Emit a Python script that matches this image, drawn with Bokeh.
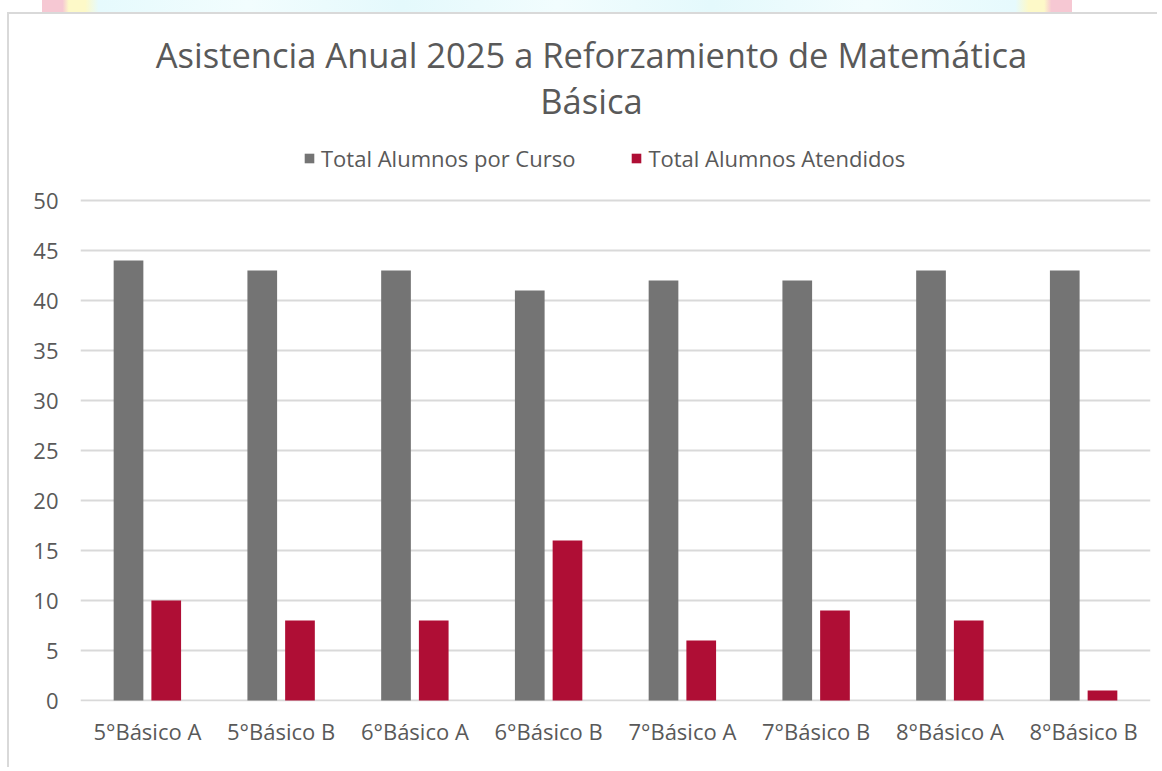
from bokeh.plotting import figure
from bokeh.models import (FactorRange, Range1d, FixedTicker, Legend, LegendItem, Label,
                          ColumnDataSource, InlineStyleSheet)
from bokeh.transform import dodge
from bokeh.embed import file_html
from bokeh.resources import INLINE

categories = ["5°Básico A", "5°Básico B", "6°Básico A", "6°Básico B",
              "7°Básico A", "7°Básico B", "8°Básico A", "8°Básico B"]
total_por_curso = [44, 43, 43, 41, 42, 42, 43, 43]
total_atendidos = [10, 8, 8, 16, 6, 9, 8, 1]
y_ticks = [0, 5, 10, 15, 20, 25, 30, 35, 40, 45, 50]
series_names = ["Total Alumnos por Curso", "Total Alumnos Atendidos"]
title_lines = ["Asistencia Anual 2025 a Reforzamiento de Matemática", "Básica"]

FONT = "Open Sans"
TXT = "#595959"
GRAY = "#747474"
RED = "#AF0E35"

src = ColumnDataSource(dict(cat=categories, total=total_por_curso, aten=total_atendidos))

banner_css = InlineStyleSheet(css="""
:host { position: relative; }
:host::before {
  content: ""; position: absolute; top: -14px; left: 33px; width: 1030px; height: 12px;
  background: linear-gradient(to right,
     #f6c8d3 0%, #f6c8d3 2%, #fdf9c8 2.6%, #fdf9c8 4.2%, #e6fafd 5.5%,
     #f2fdfe 20%, #e4f9fc 35%, #f2fdfe 50%, #e4f9fc 65%, #f2fdfe 80%,
     #e6fafd 94.5%, #fdf9c8 95.8%, #fdf9c8 97.3%, #f6c8d3 98%, #f6c8d3 100%);
}
""")

p = figure(width=1150, height=755, x_range=FactorRange(*categories),
           y_range=Range1d(-0.1, 68), output_backend="svg", toolbar_location=None,
           styles={"margin-top": "12px", "margin-left": "7px",
                   "border-top": "2px solid #d9d9d9", "border-left": "2px solid #d9d9d9"},
           stylesheets=[banner_css])
p.min_border_left = 71
p.min_border_right = 9
p.min_border_top = 6
p.min_border_bottom = 68
p.outline_line_color = None
p.background_fill_color = "white"
p.border_fill_color = "white"

r1 = p.vbar(x=dodge("cat", -0.141, range=p.x_range), top="total", width=0.222,
            source=src, fill_color=GRAY, line_color=None)
r2 = p.vbar(x=dodge("cat", 0.141, range=p.x_range), top="aten", width=0.222,
            source=src, fill_color=RED, line_color=None)

p.xgrid.grid_line_color = None
p.ygrid.grid_line_color = "#d9d9d9"
p.ygrid.grid_line_width = 2

p.yaxis.ticker = FixedTicker(ticks=y_ticks)
for ax in (p.xaxis[0], p.yaxis[0]):
    ax.axis_line_color = None
    ax.major_tick_line_color = None
    ax.minor_tick_line_color = None
    ax.major_tick_out = 0
    ax.major_tick_in = 0
    ax.major_label_text_color = TXT
    ax.major_label_text_font = FONT
    ax.major_label_text_font_size = "22px"
p.yaxis.major_label_standoff = 22
p.xaxis.major_label_standoff = 14

legend = Legend(items=[LegendItem(label=series_names[0], renderers=[r1]),
                       LegendItem(label=series_names[1], renderers=[r2])],
                orientation="horizontal", location=(223, 528),
                glyph_width=12, glyph_height=12, label_standoff=6, spacing=55,
                padding=0, margin=0, border_line_color=None, background_fill_alpha=0,
                label_text_font=FONT, label_text_font_size="22px", label_text_color=TXT)
p.add_layout(legend, "center")

p.add_layout(Label(x=3.82, y=64.6, text=title_lines[0], text_align="center",
                   text_baseline="alphabetic", text_font=FONT, text_font_size="34.5px",
                   text_color=TXT))
p.add_layout(Label(x=3.82, y=60.0, text=title_lines[1], text_align="center",
                   text_baseline="alphabetic", text_font=FONT, text_font_size="34.5px",
                   text_color=TXT))

open("out.html", "w").write(file_html(p, INLINE))
